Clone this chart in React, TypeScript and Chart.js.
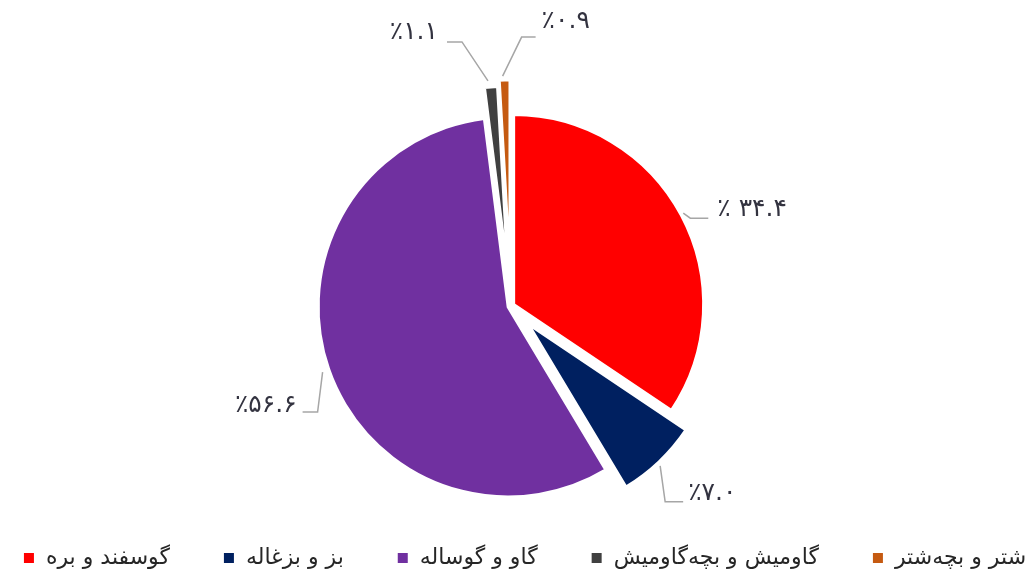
import React, { useEffect, useRef } from 'react';
import { Chart, registerables } from 'chart.js';

Chart.register(...registerables);

// ---- data ----
const categories = ['گوسفند و بره', 'بز و بزغاله', 'گاو و گوساله', 'گاومیش و بچه‌گاومیش', 'شتر و بچه‌شتر'];
const shares = [34.4, 7.0, 56.6, 1.1, 0.9];
const valueLabels = ['٪ ۳۴.۴', '٪۷.۰', '٪۵۶.۶', '٪۱.۱', '٪۰.۹'];

// ---- styles ----
const colors = ['#FF0000', '#002060', '#7030A0', '#404040', '#C55A11'];
const explode = [3, 25, 3, 30, 36];
// leader line points and label anchor, relative to each slice's outer mid point
const leaderPaths = [
  [[2, -2], [9, 3], [27, 3]],
  [[1, 4], [6, 40], [24, 40]],
  [[-6, 3], [-11, 43], [-26, 43]],
  [[-3, -6], [-29, -45], [-44, -45]],
  [[-2, -4], [17, -43], [31, -43]],
];
const labelOffsets = [[36, -6], [29, 32], [-32, 36], [-53, -54], [37, -59]];
const labelAlign: CanvasTextAlign[] = ['left', 'left', 'right', 'right', 'left'];

const FONT = '"DejaVu Sans", "Noto Sans", sans-serif';

const explodePlugin = {
  id: 'explodeSlices',
  afterDatasetUpdate(chart: any, args: any) {
    const meta = chart.getDatasetMeta(args.index);
    meta.data.forEach((arc: any, i: number) => {
      const mid = (arc.startAngle + arc.endAngle) / 2;
      arc.x += Math.cos(mid) * explode[i];
      arc.y += Math.sin(mid) * explode[i];
    });
  },
};

const labelPlugin = {
  id: 'leaderLabels',
  afterDraw(chart: any) {
    const ctx = chart.ctx;
    const meta = chart.getDatasetMeta(0);
    ctx.save();
    meta.data.forEach((arc: any, i: number) => {
      const mid = (arc.startAngle + arc.endAngle) / 2;
      const ax = arc.x + Math.cos(mid) * arc.outerRadius;
      const ay = arc.y + Math.sin(mid) * arc.outerRadius;
      ctx.strokeStyle = '#A6A6A6';
      ctx.lineWidth = 1.5;
      ctx.beginPath();
      leaderPaths[i].forEach((p, k) => {
        if (k === 0) ctx.moveTo(ax + p[0], ay + p[1]);
        else ctx.lineTo(ax + p[0], ay + p[1]);
      });
      ctx.stroke();
      ctx.fillStyle = '#333340';
      ctx.font = '25px ' + FONT;
      ctx.textAlign = labelAlign[i];
      ctx.textBaseline = 'middle';
      (ctx as any).direction = 'ltr';
      ctx.fillText(valueLabels[i], ax + labelOffsets[i][0], ay + labelOffsets[i][1]);
    });
    ctx.restore();
  },
};

const legendPlugin = {
  id: 'bottomLegend',
  afterDraw(chart: any) {
    const ctx = chart.ctx;
    ctx.save();
    ctx.font = '22px ' + FONT;
    const box = 10;
    const boxGap = 12;
    const itemGap = 54;
    const widths = categories.map((c) => box + boxGap + ctx.measureText(c).width);
    const total = widths.reduce((a, b) => a + b, 0) + itemGap * (categories.length - 1);
    let x = 525 - total / 2;
    const y = 558;
    categories.forEach((c, i) => {
      ctx.fillStyle = colors[i];
      ctx.fillRect(x, y - box / 2, box, box);
      ctx.fillStyle = '#262626';
      ctx.textAlign = 'left';
      ctx.textBaseline = 'middle';
      ctx.fillText(c, x + box + boxGap, y);
      x += widths[i] + itemGap;
    });
    ctx.restore();
  },
};

export default function App() {
  const ref = useRef<HTMLCanvasElement>(null);
  useEffect(() => {
    if (!ref.current) return;
    const chart = new Chart(ref.current, {
      type: 'pie',
      data: {
        labels: categories,
        datasets: [
          {
            data: shares,
            backgroundColor: colors,
            borderColor: '#FFFFFF',
            borderWidth: 3,
            radius: 190,
          } as any,
        ],
      },
      options: {
        animation: false,
        responsive: true,
        maintainAspectRatio: false,
        layout: { padding: { left: 0, right: 13, top: 32, bottom: 0 } },
        plugins: {
          legend: { display: false },
          tooltip: { enabled: false },
        },
      },
      plugins: [explodePlugin, labelPlugin, legendPlugin],
    });
    return () => chart.destroy();
  }, []);
  return (
    <div style={{ position: 'fixed', left: 0, top: 0, width: 1035, height: 580, background: '#fff' }}>
      <canvas ref={ref} />
    </div>
  );
}
